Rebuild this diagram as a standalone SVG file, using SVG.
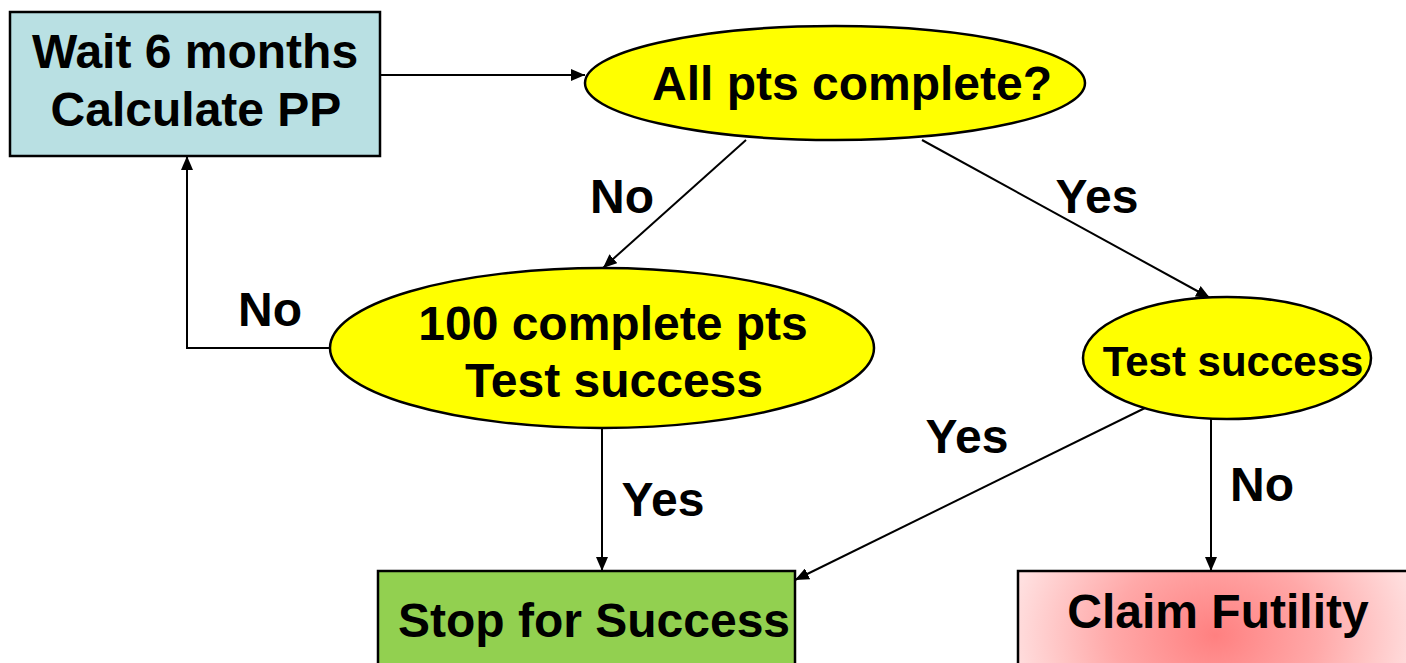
<svg xmlns="http://www.w3.org/2000/svg" width="1406" height="663" viewBox="0 0 1406 663">
<style>
.t{font-family:"Liberation Sans",Arial,sans-serif;font-weight:bold;font-size:48px;fill:#000;text-anchor:middle}
.n{stroke:#000;stroke-width:2.5}
.c{stroke:#000;stroke-width:2;fill:none}
</style>
<defs>
<marker id="ah" viewBox="0 0 14 12" refX="14" refY="6" markerWidth="14" markerHeight="12" markerUnits="userSpaceOnUse" orient="auto">
<path d="M0,0 L14,6 L0,12 Z" fill="#000"/>
</marker>
<radialGradient id="rg" gradientUnits="userSpaceOnUse" cx="1215" cy="635" r="205" gradientTransform="translate(0,635) scale(1,0.8) translate(0,-635)">
<stop offset="0" stop-color="#FF8080"/>
<stop offset="0.5" stop-color="#FFA8A8"/>
<stop offset="1" stop-color="#FFE0E0"/>
</radialGradient>
</defs>
<rect width="1406" height="663" fill="#fff"/>
<g id="connectors">
<path class="c" d="M380,75 H585" marker-end="url(#ah)"/>
<path class="c" d="M746,140 L603,268" marker-end="url(#ah)"/>
<path class="c" d="M922,140 L1210,298" marker-end="url(#ah)"/>
<path class="c" d="M330,348 H187 V156" marker-end="url(#ah)"/>
<path class="c" d="M602,428 V571" marker-end="url(#ah)"/>
<path class="c" d="M1145,408 L795,580" marker-end="url(#ah)"/>
<path class="c" d="M1211,419 V571" marker-end="url(#ah)"/>
<text class="t" x="622" y="213">No</text>
<text class="t" x="1097" y="213">Yes</text>
<text class="t" x="270" y="326">No</text>
<text class="t" x="663" y="516">Yes</text>
<text class="t" x="967" y="453">Yes</text>
<text class="t" x="1262" y="501">No</text>
</g>
<g id="wait">
<rect class="n" x="10" y="12" width="370" height="144" fill="#B9E0E3"/>
<text class="t" x="195" y="68">Wait 6 months</text>
<text class="t" x="196" y="126">Calculate PP</text>
</g>
<g id="allpts">
<ellipse class="n" cx="835" cy="83" rx="250" ry="57" fill="#FFFF00"/>
<text class="t" x="852" y="100">All pts complete?</text>
</g>
<g id="hundred">
<ellipse class="n" cx="602" cy="348" rx="272" ry="80" fill="#FFFF00"/>
<text class="t" x="613" y="340">100 complete pts</text>
<text class="t" x="614" y="397">Test success</text>
</g>
<g id="testsuccess">
<ellipse class="n" cx="1227" cy="358" rx="144" ry="61" fill="#FFFF00"/>
<text class="t" x="1233" y="376" style="font-size:42px">Test success</text>
</g>
<g id="stop">
<rect class="n" x="378" y="571" width="417" height="100" fill="#92D050"/>
<text class="t" x="594" y="637">Stop for Success</text>
</g>
<g id="futility">
<rect class="n" x="1018" y="571" width="400" height="100" fill="url(#rg)"/>
<text class="t" x="1218" y="628">Claim Futility</text>
</g>
</svg>
